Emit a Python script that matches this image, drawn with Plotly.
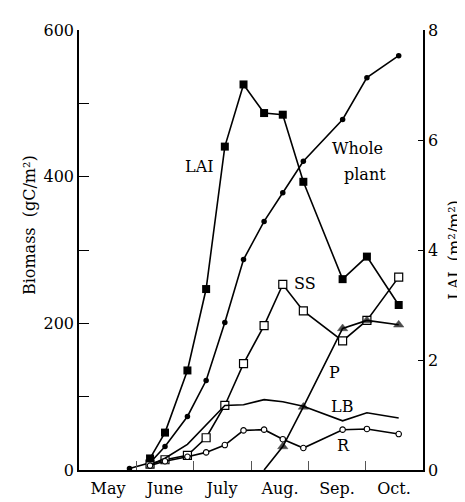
import plotly.graph_objects as go

# x values: days since May 1
month_names = ["May", "June", "July", "Aug.", "Sep.", "Oct."]
month_lengths = [31, 30, 31, 31, 30, 31]

days_all = [27, 38, 46, 58, 68, 78, 88, 99, 109, 120, 141, 154, 171]
days = days_all[1:]
days_p = [99, 109, 120, 141, 154, 171]

whole_plant = [2, 10, 32, 73, 122, 201, 287, 339, 378, 421, 478, 535, 565]
lai = [0.21, 0.68, 1.81, 3.29, 5.88, 7.01, 6.49, 6.46, 5.24, 3.47, 3.88, 3.0]
ss = [8, 14, 20, 44, 88, 145, 197, 253, 217, 176, 204, 263]
lb = [7, 16, 35, 61, 88, 89, 96, 93, 87, 67, 78, 71]
r = [6, 12, 18, 24, 34, 54, 55, 42, 30, 55, 56, 49]
p = [0, 32, 86, 193, 204, 198]

left_ticks = [0, 200, 400, 600]
right_ticks = [0, 2, 4, 6, 8]

# month boundaries and mid-points
bounds = [0]
for m in month_lengths:
    bounds.append(bounds[-1] + m)
mids = [(bounds[i] + bounds[i + 1]) / 2 for i in range(len(month_lengths))]

FONT = "DejaVu Serif"
LW = 1.6

fig = go.Figure()
fig.add_trace(go.Scatter(x=days_all, y=whole_plant, mode="lines+markers",
                         line=dict(color="black", width=LW),
                         marker=dict(symbol="circle", size=5.5, color="black"),
                         cliponaxis=False, showlegend=False))
fig.add_trace(go.Scatter(x=days, y=ss, mode="lines+markers",
                         line=dict(color="black", width=LW),
                         marker=dict(symbol="square", size=8, color="white",
                                     line=dict(color="black", width=1.2)),
                         cliponaxis=False, showlegend=False))
fig.add_trace(go.Scatter(x=days, y=lb, mode="lines",
                         line=dict(color="black", width=LW),
                         cliponaxis=False, showlegend=False))
fig.add_trace(go.Scatter(x=days, y=r, mode="lines+markers",
                         line=dict(color="black", width=LW),
                         marker=dict(symbol="circle", size=5.5, color="white",
                                     line=dict(color="black", width=1.1)),
                         cliponaxis=False, showlegend=False))
fig.add_trace(go.Scatter(x=days_p, y=p, mode="lines+markers",
                         line=dict(color="black", width=LW),
                         marker=dict(symbol="triangle-up", color="black",
                                     size=[0] + [9] * (len(p) - 1),
                                     line=dict(color="black", width=0.5)),
                         cliponaxis=False, showlegend=False))
fig.add_trace(go.Scatter(x=days, y=lai, mode="lines+markers", yaxis="y2",
                         line=dict(color="black", width=LW),
                         marker=dict(symbol="square", size=8, color="black"),
                         cliponaxis=False, showlegend=False))

labels = [
    ("LAI", 64.5, 414),
    ("Whole", 148.8, 438),
    ("plant", 153, 403),
    ("SS", 121, 255),
    ("P", 136.5, 133),
    ("LB", 140.8, 87),
    ("R", 141.3, 34),
]
for txt, x, y in labels:
    fig.add_annotation(x=x, y=y, text=txt, showarrow=False, xref="x", yref="y",
                       font=dict(family=FONT, size=16, color="black"),
                       xanchor="center", yanchor="middle")

fig.add_annotation(x=-0.142, y=0.557, xref="paper", yref="paper",
                   text="Biomass  (gC/m²)", textangle=-90, showarrow=False,
                   font=dict(family=FONT, size=16, color="black"),
                   xanchor="center", yanchor="middle")

fig.update_layout(
    width=465, height=502,
    margin=dict(l=71, r=49, t=22, b=24),
    paper_bgcolor="white", plot_bgcolor="white",
    font=dict(family=FONT, size=16, color="black"),
    xaxis=dict(range=[0, bounds[-1]], tickmode="array", tickvals=mids,
               ticktext=month_names, ticks="", ticklen=0, ticklabelstandoff=3,
               showline=True, linecolor="black", linewidth=1.5,
               showgrid=False, zeroline=False,
               minor=dict(tickmode="array", tickvals=bounds[1:-1], ticks="inside",
                          ticklen=9, tickcolor="#555", tickwidth=1, showgrid=False)),
    yaxis=dict(range=[0, 600], tickmode="array", tickvals=left_ticks,
               ticks="inside", ticklen=10, tickcolor="black", tickwidth=1,
               showline=True, linecolor="black", linewidth=1.5,
               showgrid=False, zeroline=False,
               minor=dict(dtick=100, ticks="inside", ticklen=10,
                          tickcolor="black", tickwidth=1, showgrid=False)),
    yaxis2=dict(range=[0, 8], overlaying="y", side="right", tickmode="array",
                tickvals=right_ticks, ticks="inside", ticklen=5,
                tickcolor="black", tickwidth=1,
                showline=True, linecolor="black", linewidth=1.5,
                showgrid=False, zeroline=False,
                title=dict(text="LAI  (m²/m²)", standoff=12,
                           font=dict(family=FONT, size=16, color="black"))),
)

fig.write_html("out.html")
